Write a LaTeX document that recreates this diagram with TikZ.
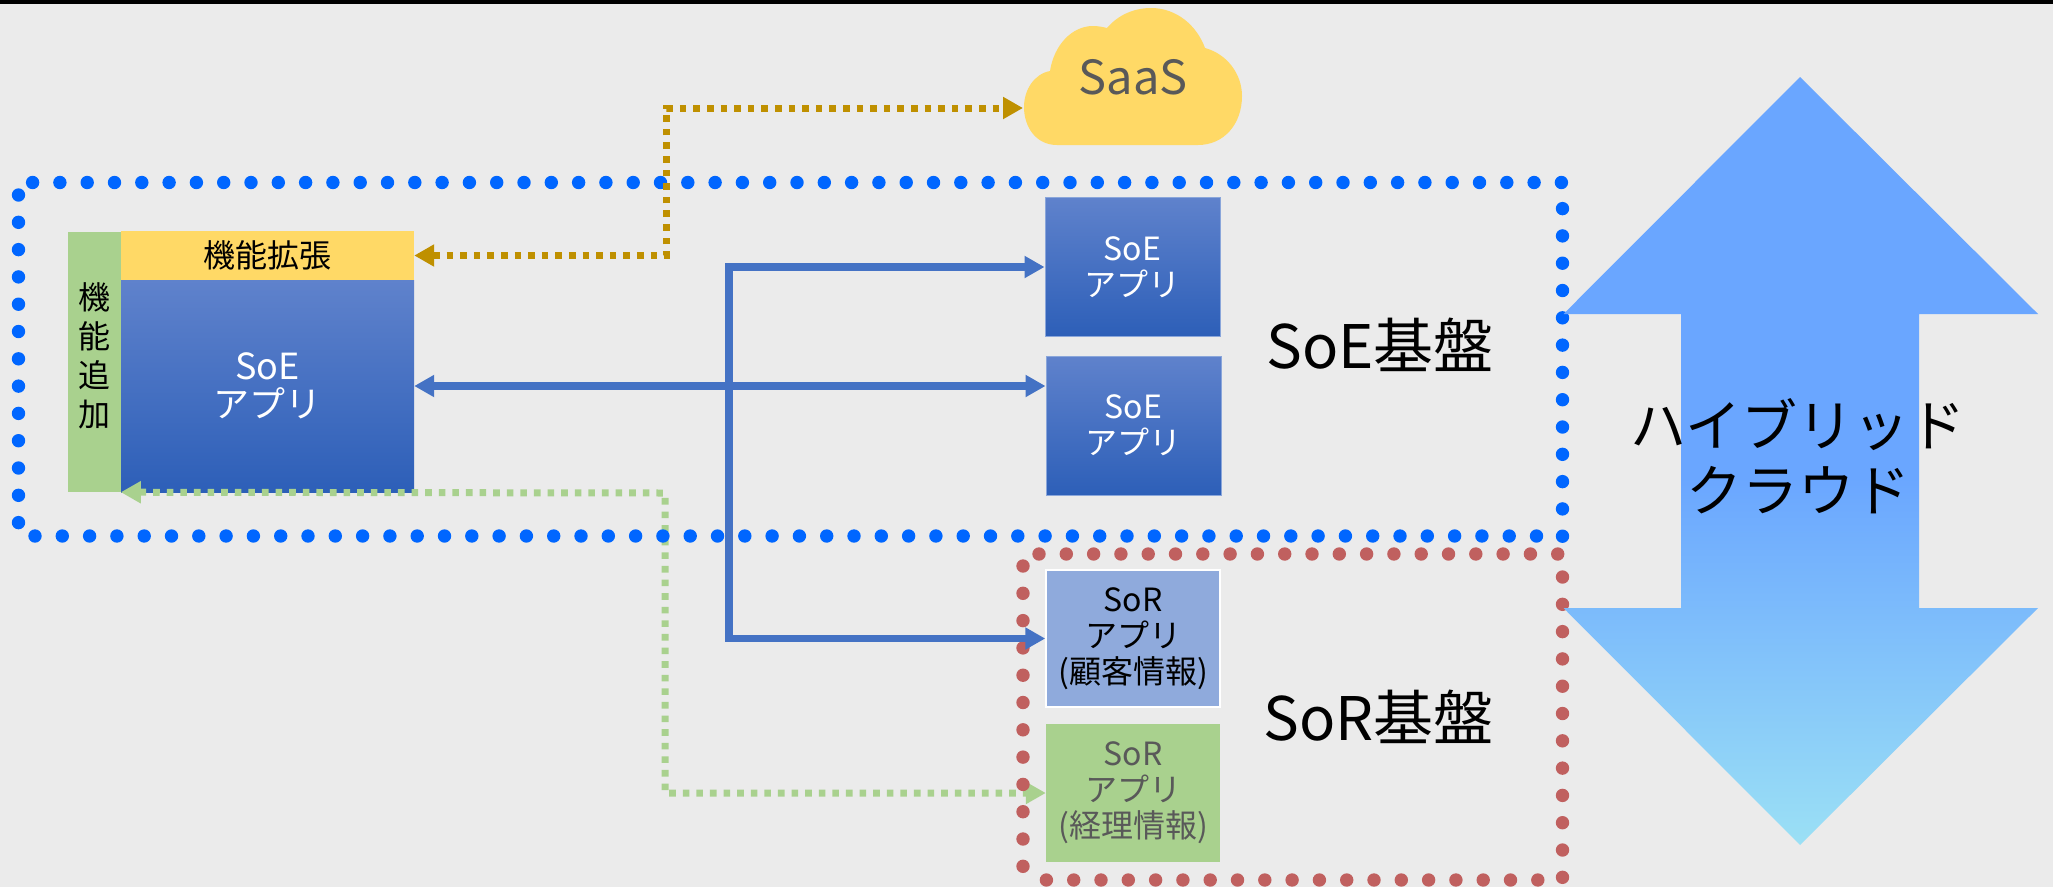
\documentclass[tikz,border=0pt]{standalone}
\usepackage{fontspec}
\setmainfont{Noto Sans CJK JP}
\usetikzlibrary{arrows.meta}
\definecolor{bg}{HTML}{EBEBEB}
\definecolor{dotblue}{HTML}{0066FF}
\definecolor{dotred}{HTML}{C0605F}
\definecolor{gold}{HTML}{BF9000}
\definecolor{sunny}{HTML}{FFD966}
\definecolor{leaf}{HTML}{A9D18E}
\definecolor{linkblue}{HTML}{4472C4}
\definecolor{sorblue}{HTML}{8FAADC}
\definecolor{boxtop}{HTML}{5F82CC}
\definecolor{boxbot}{HTML}{2D5FB8}
\definecolor{bigtop}{HTML}{6AA6FF}
\definecolor{bigbot}{HTML}{9BE0F5}
\definecolor{greytext}{HTML}{595959}
\pgfdeclareverticalshading{bigarrowshade}{100bp}{color(0bp)=(bigbot); color(25bp)=(bigbot); color(49bp)=(bigtop); color(75bp)=(bigtop); color(100bp)=(bigtop)}
\tikzset{
  dotline/.style={line cap=round,line width=13.4pt,dash pattern=on 0pt off 27.3pt},
  appbox/.style={rectangle,inner sep=0pt,align=center,top color=boxtop,bottom color=boxbot,text=white,font=\fontsize{32}{36}\selectfont},
  plainbox/.style={rectangle,inner sep=0pt,align=center,font=\fontsize{32}{36}\selectfont},
  linksolid/.style={draw=linkblue,line width=7.5pt,{Triangle[length=20pt,width=21pt]}-{Triangle[length=20pt,width=21pt]}},
  linkdot/.style={line width=7pt,dash pattern=on 6.6pt off 7pt,{Triangle[length=20pt,width=21pt]}-{Triangle[length=20pt,width=21pt]}},
  bigtext/.style={inner sep=0pt,font=\fontsize{60}{60}\selectfont,text=black}
}
\begin{document}
\begin{tikzpicture}[x=1pt,y=-1pt]
\useasboundingbox (0,0) rectangle (2053,887);
\fill[bg] (0,0) rectangle (2053,887);
\fill[black] (0,0) rectangle (2053,4);

% cloud
\fill[sunny] (1057,145) .. controls (1036,145) and (1024,127) .. (1024,107)
  .. controls (1024,90) and (1034,74) .. (1050,71)
  .. controls (1054,45) and (1072,26) .. (1093,26)
  .. controls (1098,26) and (1103,27) .. (1107,28)
  .. controls (1118,15) and (1134,8) .. (1151,8)
  .. controls (1177,8) and (1197,26) .. (1205,48)
  .. controls (1227,54) and (1242,74) .. (1242,96)
  .. controls (1242,124) and (1224,145) .. (1198,145) -- cycle;
\node[inner sep=0pt,text=greytext,font=\fontsize{47}{47}\selectfont] (saas) at (1133,77) {SaaS};
\coordinate (cloudW) at (1023,108);

% boxes
\node[plainbox,fill=leaf,minimum width=53pt,minimum height=260pt] (addon) at (94.5,362) {};
\node[plainbox] (addtext) at (94.5,360) {\fontsize{32}{39}\selectfont\begin{tabular}{@{}c@{}}機\\[0pt]能\\[0pt]追\\[0pt]加\end{tabular}};
\node[plainbox,fill=sunny,minimum width=293pt,minimum height=49pt] (ext) at (267.5,255.5) {機能拡張};
\node[appbox,minimum width=293pt,minimum height=212pt,font=\fontsize{36}{38}\selectfont] (app) at (267.5,386) {SoE\\アプリ};
\node[appbox,draw=sorblue!90!boxtop,line width=1pt,minimum width=175pt,minimum height=138.5pt] (soeA) at (1132.5,267) {SoE\\アプリ};
\node[appbox,draw=sorblue!90!boxtop,line width=1pt,minimum width=175pt,minimum height=139pt] (soeB) at (1133.5,425.5) {SoE\\アプリ};
\node[plainbox,fill=sorblue,draw=white,line width=1.5pt,minimum width=174pt,minimum height=137pt] (sorA) at (1133,638.5) {SoR\\アプリ\\(顧客情報)};
\node[plainbox,fill=leaf,text=greytext,minimum width=174pt,minimum height=138pt] (sorB) at (1133,793) {SoR\\アプリ\\(経理情報)};

\node[bigtext] (soelabel) at (1380,345) {SoE基盤};
\node[bigtext] (sorlabel) at (1378.5,717) {SoR基盤};

% connector bends
\coordinate (gA) at (665,493);
\coordinate (gB) at (665,793);
\coordinate (yA) at (666.5,255.5);
\coordinate (yB) at (666.5,108);
\coordinate (bA) at (729,267);
\coordinate (bB) at (729,638.5);

% green dotted connector, under the frames
\draw[linkdot,draw=leaf] (app.south west) -- (gA) -- (gB) -- (sorB.west);

% frames
\draw[dotline,dotblue] (32.6,182.5) -- (1561.5,182.5);
\draw[dotline,dotblue] (1562.5,208.6) -- (1562.5,536.5);
\draw[dotline,dotblue] (35,536) -- (1563,536);
\draw[dotline,dotblue] (18.5,195) -- (18.5,523.5);
\draw[dotline,dotred] (1039,554) -- (1558,554);
\draw[dotline,dotred] (1562.5,577) -- (1562.5,877.5);
\draw[dotline,dotred] (1046.4,880) -- (1538,880);
\draw[dotline,dotred] (1023,566) -- (1023,866.5);

% gold dotted connector
\draw[linkdot,draw=gold] (ext.east) -- (yA) -- (yB) -- (cloudW);

% blue connectors
\draw[linksolid] (app.east) -- (soeB.west |- app.east);
\draw[linksolid] (soeA.west) -- (bA) -- (bB) -- (sorA.west);

% big arrow
\shade[shading=bigarrowshade] (1800,77) -- (2038,314) -- (1919,314) -- (1919,608) -- (2038,608)
  -- (1800,845) -- (1563.5,608) -- (1681,608) -- (1681,314) -- (1563.5,314) -- cycle;
\node[inner sep=0pt,align=center,text=black,font=\fontsize{56}{65}\selectfont] (hybrid) at (1798,456) {ハイブリッド\\クラウド};
\end{tikzpicture}
\end{document}
